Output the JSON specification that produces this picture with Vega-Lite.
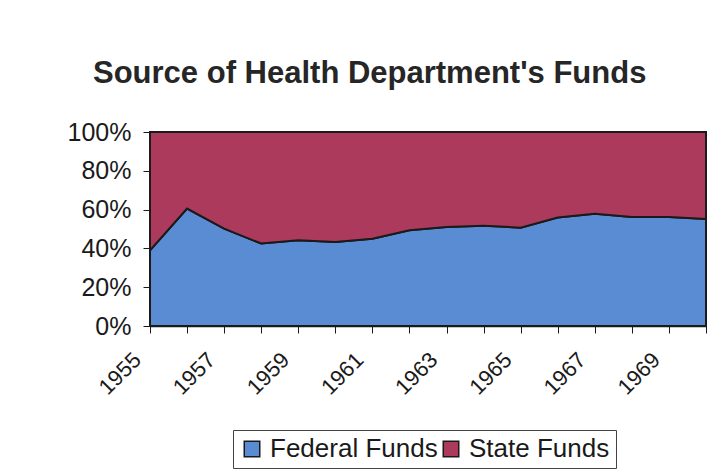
{
  "$schema": "https://vega.github.io/schema/vega-lite/v6.json",
  "width": 556,
  "height": 194,
  "padding": {"left": 67, "top": 58, "right": 4, "bottom": 0},
  "background": "white",
  "title": {
    "text": "Source of Health Department's Funds",
    "anchor": "start",
    "frame": "group",
    "dx": -57,
    "fontSize": 31,
    "fontWeight": "bold",
    "font": "Liberation Sans",
    "color": "#262626",
    "offset": 30
  },
  "data": {
    "values": [
      {"year": 1955, "source": "Federal Funds", "pct": 39.0},
      {"year": 1956, "source": "Federal Funds", "pct": 60.5},
      {"year": 1957, "source": "Federal Funds", "pct": 50.2},
      {"year": 1958, "source": "Federal Funds", "pct": 42.5},
      {"year": 1959, "source": "Federal Funds", "pct": 44.2},
      {"year": 1960, "source": "Federal Funds", "pct": 43.3},
      {"year": 1961, "source": "Federal Funds", "pct": 45.0},
      {"year": 1962, "source": "Federal Funds", "pct": 49.3},
      {"year": 1963, "source": "Federal Funds", "pct": 51.0},
      {"year": 1964, "source": "Federal Funds", "pct": 51.7},
      {"year": 1965, "source": "Federal Funds", "pct": 50.7},
      {"year": 1966, "source": "Federal Funds", "pct": 55.9},
      {"year": 1967, "source": "Federal Funds", "pct": 57.9},
      {"year": 1968, "source": "Federal Funds", "pct": 56.2},
      {"year": 1969, "source": "Federal Funds", "pct": 56.2},
      {"year": 1970, "source": "Federal Funds", "pct": 55.2},
      {"year": 1955, "source": "State Funds", "pct": 61.0},
      {"year": 1956, "source": "State Funds", "pct": 39.5},
      {"year": 1957, "source": "State Funds", "pct": 49.8},
      {"year": 1958, "source": "State Funds", "pct": 57.5},
      {"year": 1959, "source": "State Funds", "pct": 55.8},
      {"year": 1960, "source": "State Funds", "pct": 56.7},
      {"year": 1961, "source": "State Funds", "pct": 55.0},
      {"year": 1962, "source": "State Funds", "pct": 50.7},
      {"year": 1963, "source": "State Funds", "pct": 49.0},
      {"year": 1964, "source": "State Funds", "pct": 48.3},
      {"year": 1965, "source": "State Funds", "pct": 49.3},
      {"year": 1966, "source": "State Funds", "pct": 44.1},
      {"year": 1967, "source": "State Funds", "pct": 42.1},
      {"year": 1968, "source": "State Funds", "pct": 43.8},
      {"year": 1969, "source": "State Funds", "pct": 43.8},
      {"year": 1970, "source": "State Funds", "pct": 44.8}
    ]
  },
  "mark": {"type": "area", "stroke": "#1a1a1a", "strokeWidth": 2, "opacity": 1, "fillOpacity": 1},
  "encoding": {
    "x": {
      "field": "year",
      "type": "quantitative",
      "scale": {"domain": [1955, 1970], "nice": false, "zero": false},
      "axis": {
        "title": null,
        "grid": false,
        "values": [1955,1956,1957,1958,1959,1960,1961,1962,1963,1964,1965,1966,1967,1968,1969,1970],
        "labelExpr": "datum.value % 2 == 1 ? format(datum.value, 'd') : ''",
        "labelAngle": -45,
        "labelAlign": "right",
        "labelBaseline": "middle",
        "labelPadding": 23,
        "labelOffset": -13,
        "labelFontSize": 22,
        "labelOverlap": false,
        "labelBound": false,
        "labelFlush": false,
        "tickSize": 7,
        "tickColor": "#1a1a1a",
        "domainColor": "#1a1a1a",
        "domainWidth": 1.5
      }
    },
    "y": {
      "field": "pct",
      "type": "quantitative",
      "stack": "normalize",
      "scale": {"domain": [0, 1], "nice": false},
      "axis": {
        "title": null,
        "grid": false,
        "values": [0, 0.2, 0.4, 0.6, 0.8, 1],
        "format": ".0%",
        "labelFontSize": 25,
        "labelPadding": 12,
        "tickSize": 7,
        "tickColor": "#1a1a1a",
        "domainColor": "#1a1a1a",
        "domainWidth": 1.5
      }
    },
    "color": {
      "field": "source",
      "type": "nominal",
      "scale": {"domain": ["Federal Funds", "State Funds"], "range": ["#5A8CD3", "#AC3A5C"]},
      "legend": {
        "title": null,
        "orient": "none",
        "direction": "horizontal",
        "legendX": 83,
        "legendY": 298,
        "symbolType": "square",
        "symbolSize": 240,
        "symbolStrokeColor": "#1a1a1a",
        "symbolStrokeWidth": 1.5,
        "symbolOpacity": 1,
        "labelFontSize": 26,
        "labelLimit": 400,
        "labelOffset": 5,
        "columnPadding": 0,
        "padding": 6,
        "strokeColor": "#444444",
        "fillColor": "white"
      }
    },
    "order": {"field": "source", "sort": "ascending"}
  },
  "config": {
    "font": "Liberation Sans",
    "view": {"stroke": null},
    "axis": {"labelColor": "#1a1a1a", "labelFont": "Liberation Sans"},
    "legend": {"labelColor": "#1a1a1a", "labelFont": "Liberation Sans"}
  }
}
